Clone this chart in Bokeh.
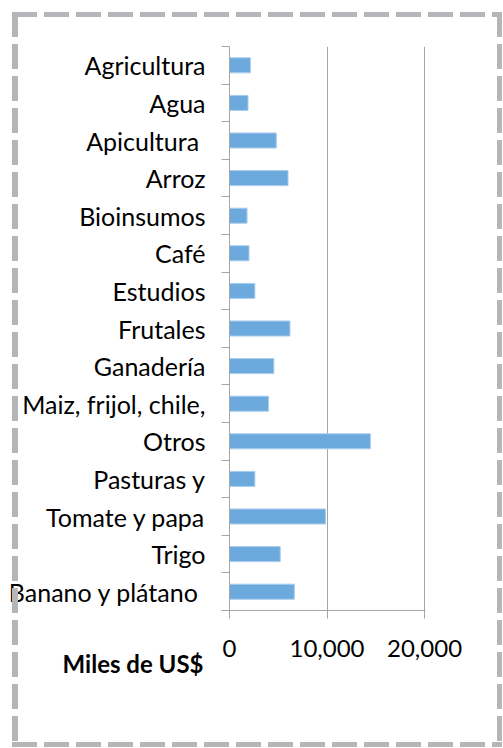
from bokeh.plotting import figure
from bokeh.models import FixedTicker, NumeralTickFormatter, Range1d, Title
from bokeh.embed import file_html
from bokeh.resources import INLINE

categories = ["Agricultura", "Agua", "Apicultura ", "Arroz", "Bioinsumos", "Café",
              "Estudios", "Frutales", "Ganadería", "Maiz, frijol, chile,", "Otros",
              "Pasturas y", "Tomate y papa", "Trigo", "Banano y plátano "]
values = [2150, 1900, 4800, 6000, 1800, 2000, 2600, 6200, 4550, 4000, 14450,
          2600, 9850, 5200, 6650]
x_ticks = [0, 10000, 20000]
axis_title = "Miles de US$"

FONT = "Lato"
GRAY = "#a6a6a6"
BORDER = "#b4b6b9"

n = len(categories)
ypos = [n - i - 0.5 for i in range(n)]
bounds = list(range(n + 1))

dash = BORDER + " 0 25px, transparent 25px 32px"
css = (":host::after { content: ''; position: absolute; left: 12px; top: 12px; "
       "width: 490px; height: 735px; pointer-events: none; z-index: 10; background: "
       "repeating-linear-gradient(90deg, " + dash + ") left top / 100% 5px no-repeat, "
       "repeating-linear-gradient(90deg, " + dash + ") left bottom / 100% 5px no-repeat, "
       "repeating-linear-gradient(180deg, " + dash + ") left top / 6px 100% no-repeat, "
       "repeating-linear-gradient(180deg, " + dash + ") right top / 5px 100% no-repeat; }"
       " :host { position: relative; }")

p = figure(width=503, height=748, output_backend="svg", toolbar_location=None,
           x_range=Range1d(0, 20100), y_range=Range1d(0, n),
           min_border_left=229, min_border_right=78, min_border_top=46,
           min_border_bottom=138, stylesheets=[css])

p.hbar(y=ypos, left=0, right=values, height=0.4,
       fill_color="#6caadd", line_color="#a9cdee", line_width=1)

# x axis
p.xaxis.ticker = FixedTicker(ticks=x_ticks)
p.xaxis.formatter = NumeralTickFormatter(format="0,0")
p.xaxis.axis_line_color = GRAY
p.xaxis.major_tick_line_color = GRAY
p.xaxis.major_tick_out = 8
p.xaxis.major_tick_in = 0
p.xaxis.minor_tick_line_color = None
p.xaxis.major_label_text_font = FONT
p.xaxis.major_label_text_font_size = "24px"
p.xaxis.major_label_text_color = "black"
p.xaxis.major_label_standoff = 21

# y axis: labels at centres, tick marks at boundaries
p.yaxis.ticker = FixedTicker(ticks=ypos, minor_ticks=bounds)
p.yaxis.major_label_overrides = {y: c for y, c in zip(ypos, categories)}
p.yaxis.axis_line_color = GRAY
p.yaxis.major_tick_line_color = None
p.yaxis.major_tick_out = 0
p.yaxis.major_tick_in = 0
p.yaxis.minor_tick_line_color = GRAY
p.yaxis.minor_tick_out = 8
p.yaxis.minor_tick_in = 0
p.yaxis.major_label_text_font = FONT
p.yaxis.major_label_text_font_size = "25px"
p.yaxis.major_label_text_color = "black"
p.yaxis.major_label_standoff = 16

p.xgrid.ticker = FixedTicker(ticks=x_ticks)
p.xgrid.grid_line_color = GRAY
p.ygrid.grid_line_color = None
p.outline_line_color = None

p.add_layout(Title(text=axis_title, align="right", offset=222, standoff=-22,
                   vertical_align="top", text_font=FONT, text_font_style="bold",
                   text_font_size="24px", text_color="black"), "below")

open("out.html", "w").write(file_html(p, INLINE))
